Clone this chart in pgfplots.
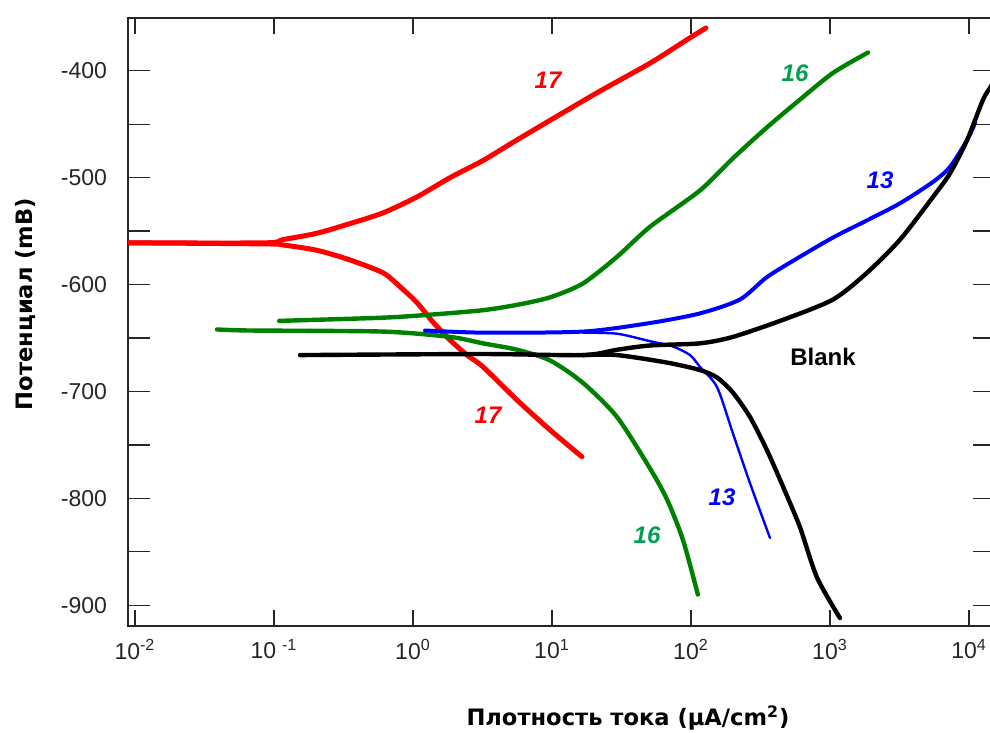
\documentclass[border=0pt]{standalone}
\usepackage{pgfplots}
\pgfplotsset{compat=1.18}
\usepackage{fontspec}
\setmainfont{Liberation Sans}
\newfontfamily\labfont{DejaVu Sans}
\definecolor{cred}{RGB}{255,0,0}
\definecolor{cgreen}{RGB}{0,128,0}
\definecolor{cgreenlab}{RGB}{0,160,80}
\definecolor{cblue}{RGB}{0,0,255}
\begin{document}
\begin{tikzpicture}
\useasboundingbox (0,0) rectangle (495pt,-366.5pt);
\begin{axis}[
  at={(64pt,-313pt)}, anchor=south west,
  scale only axis, width=433.5pt, height=304pt,
  xmode=log, xmin=0.00891, xmax=15380, ymin=-919.4, ymax=-350.7,
  xtick={0.01,0.1,1,10,100,1000,10000},
  xticklabels={10\textsuperscript{-2},10\hspace{3pt}\textsuperscript{-1},10\textsuperscript{0},10\textsuperscript{1},10\textsuperscript{2},10\textsuperscript{3},10\textsuperscript{4}},
  ytick={-900,-850,...,-400},
  yticklabels={-900,,-800,,-700,,-600,,-500,,-400},
  xminorticks=false, yminorticks=false,
  tick align=inside,
  major tick length=11pt,
  xtick style={/pgfplots/major tick length=8pt},
  axis line style={line width=0.7pt, color=black!85},
  tick style={line width=0.6pt, color=black!85},
  ticklabel style={font=\fontsize{11.5}{13}\selectfont, color=black!85},
  yticklabel style={xshift=-7pt},
  xticklabel style={yshift=-3pt},
  every axis plot/.append style={line join=round, line cap=round, smooth, tension=0.45},
]
% 17 anodic
\addplot[cred, line width=2.5pt] coordinates {(0.00905,-561) (0.0861,-561) (0.116,-558) (0.204,-552) (0.352,-543) (0.608,-533) (1.07,-518) (1.85,-500) (3.19,-484) (5.24,-467) (11.4,-441) (22.2,-419) (50.7,-393) (93.6,-371) (128,-360)};
% 17 cathodic
\addplot[cred, line width=2.5pt] coordinates {(0.00905,-561) (0.0861,-562) (0.116,-563) (0.204,-568) (0.352,-577) (0.608,-589) (0.806,-602) (1.07,-617) (1.39,-635) (1.85,-652) (2.45,-666) (3.19,-677) (5.60,-708) (9.68,-736) (16.4,-761)};
% 16 anodic
\addplot[cgreen, line width=2.2pt] coordinates {(0.109,-634) (0.608,-631) (1.39,-628) (3.19,-624) (5.60,-619) (9.68,-612) (16.7,-599) (29.4,-574) (50.7,-546) (116,-512) (200,-482) (352,-453) (608,-427) (1052,-402) (1877,-383)};
% 16 cathodic
\addplot[cgreen, line width=2.2pt] coordinates {(0.0389,-642) (0.0672,-643) (0.608,-644) (1.85,-649) (3.19,-655) (5.60,-661) (9.68,-671) (16.7,-692) (29.4,-724) (50.7,-772) (67.2,-801) (87.6,-839) (112,-890)};
% 13 anodic
\addplot[cblue, line width=2pt] coordinates {(1.22,-643) (3.19,-645) (16.7,-644) (50.7,-636) (116,-627) (225,-614) (352,-593) (608,-574) (1052,-556) (1845,-540) (3191,-524) (5510,-504) (7295,-490) (9680,-465) (11050,-449)};
% 13 cathodic
\addplot[cblue, line width=1.2pt] coordinates {(16.7,-645) (29.4,-646) (50.7,-653) (74.2,-658) (98.4,-666) (116,-677) (154,-696) (200,-739) (266,-786) (370,-837)};
% Blank anodic
\addplot[black, line width=2.2pt] coordinates {(0.154,-666) (3.19,-665) (16.7,-666) (29.4,-661) (50.7,-657) (116,-655) (200,-649) (459,-633) (1052,-614) (1845,-589) (3191,-558) (5510,-518) (7295,-496) (9680,-465) (12620,-427) (14630,-413) (16000,-400)};
% Blank cathodic
\addplot[black, line width=2.2pt] coordinates {(16.7,-666) (29.4,-666) (67.2,-673) (116,-680) (154,-687) (200,-701) (266,-724) (352,-755) (459,-789) (608,-827) (806,-874) (1180,-912)};
\end{axis}
\begin{scope}[every node/.style={font=\bfseries\itshape\fontsize{12}{14}\selectfont}]
\node[text=cred] at (274pt,-40pt) {17};
\node[text=cred] at (244pt,-207.5pt) {17};
\node[text=cgreenlab] at (397.5pt,-36.5pt) {16};
\node[text=cgreenlab] at (323.5pt,-267.5pt) {16};
\node[text=cblue] at (440pt,-90pt) {13};
\node[text=cblue] at (361pt,-248.5pt) {13};
\end{scope}
\node[font=\bfseries\fontsize{12}{14}\selectfont] at (411.5pt,-178.5pt) {Blank};
\node[rotate=90, font=\labfont\bfseries\fontsize{11.3}{13}\selectfont] at (12.5pt,-152pt) {Потенциал (mB)};
\node[font=\labfont\bfseries\fontsize{11.3}{13}\selectfont] at (314pt,-359pt) {Плотность тока (µA/cm\textsuperscript{2})};
\end{tikzpicture}
\end{document}
